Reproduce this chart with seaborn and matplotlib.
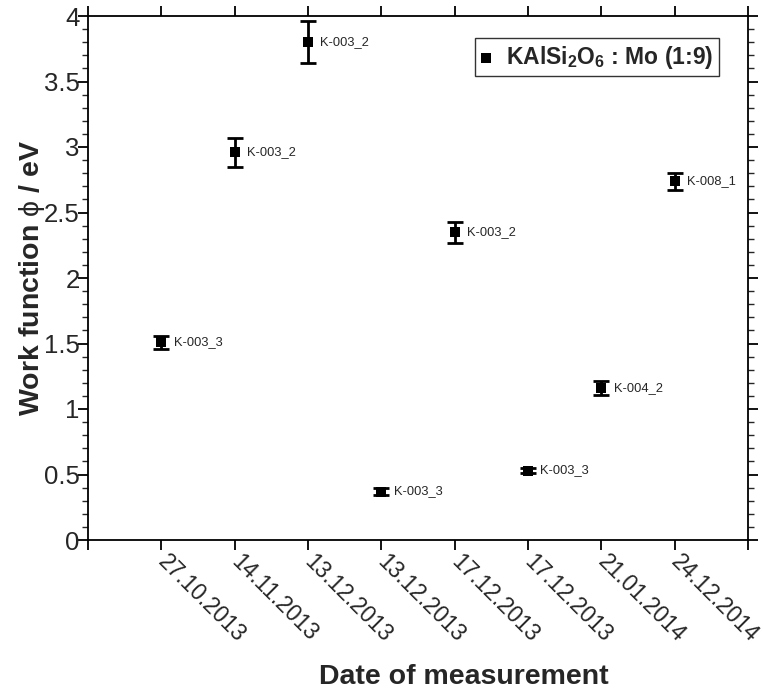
import matplotlib
matplotlib.use("Agg")
import matplotlib.pyplot as plt
import seaborn as sns
import pandas as pd
import numpy as np

dates = ["27.10.2013", "14.11.2013", "13.12.2013", "13.12.2013",
         "17.12.2013", "17.12.2013", "21.01.2014", "24.12.2014"]
work_function = [1.51, 2.96, 3.80, 0.37, 2.35, 0.53, 1.16, 2.74]
errors = [0.05, 0.11, 0.16, 0.03, 0.08, 0.02, 0.05, 0.065]
sample_labels = ["K-003_3", "K-003_2", "K-003_2", "K-003_3",
                 "K-003_2", "K-003_3", "K-004_2", "K-008_1"]

sns.set_style("ticks")
plt.rcParams['font.family'] = ['Liberation Sans', 'DejaVu Sans']
plt.rcParams['mathtext.fontset'] = 'custom'
plt.rcParams['mathtext.rm'] = 'Liberation Sans'
plt.rcParams['mathtext.it'] = 'Liberation Sans'
plt.rcParams['mathtext.bf'] = 'Liberation Sans:bold'

positions = np.arange(1, len(dates) + 1)
df = pd.DataFrame({"pos": positions, "wf": work_function, "err": errors,
                   "label": sample_labels})

fig = plt.figure(figsize=(7.63, 6.90), dpi=100)
ax = fig.add_axes([88/763, 150/690, 660/763, 524/690])

ax.errorbar(df["pos"], df["wf"], yerr=df["err"], fmt="none", ecolor="black",
            elinewidth=2, capsize=6, capthick=2, zorder=2)
sns.scatterplot(data=df, x="pos", y="wf", marker="s", color="black", s=45,
                edgecolor="black", linewidth=0, ax=ax, zorder=3,
                label=r"KAlSi$_{\mathbf{2}}$O$_{\mathbf{6}}$ : Mo (1:9)")

for p, v, t in zip(df["pos"], df["wf"], df["label"]):
    ax.text(p + 0.17, v, t, fontsize=9.3, va="center", ha="left")

ax.set_xlim(0, 9)
ax.set_ylim(0, 4)
ax.set_xticks(np.arange(0, 10))
ax.set_xticklabels([""] + dates + [""], rotation=-45, ha="left", va="center",
                   rotation_mode="anchor", fontsize=16.4)
ax.set_yticks(np.arange(0, 4.01, 0.5))
ax.set_yticklabels(["0", "0.5", "1", "1.5", "2", "2.5", "3", "3.5", "4"], fontsize=18.5)
ax.set_yticks(np.arange(0, 4.01, 0.1), minor=True)

for s in ax.spines.values():
    s.set_visible(True)
    s.set_linewidth(1.3)
    s.set_color("black")

ax.tick_params(axis="both", which="major", direction="out", length=7, width=1.3,
               color="black", top=True, right=True)
ax.tick_params(axis="x", labelsize=16.4, pad=6)
ax.tick_params(axis="y", labelsize=18.5, pad=-1)
ax.tick_params(axis="y", which="minor", direction="out", length=4, width=1.0,
               left=True, right=True)

ax.set_xlabel("Date of measurement", fontsize=20.5, fontweight="bold")
ax.xaxis.set_label_coords(0.57, -0.236)
ax.set_ylabel(r"Work function $\mathrm{\phi}$ / eV", fontsize=20.5, fontweight="bold")
ax.yaxis.set_label_coords(-0.062, 0.5)

leg = ax.legend(loc="upper right", bbox_to_anchor=(0.956, 0.958), frameon=True,
                fancybox=False, edgecolor="black",
                handlelength=0.5, handletextpad=0.6, borderpad=0.25, markerscale=1.0,
                borderaxespad=0, prop={"weight": "bold", "size": 16.5})
leg.get_frame().set_linewidth(1.0)

fig.savefig("out.png", dpi=100)
